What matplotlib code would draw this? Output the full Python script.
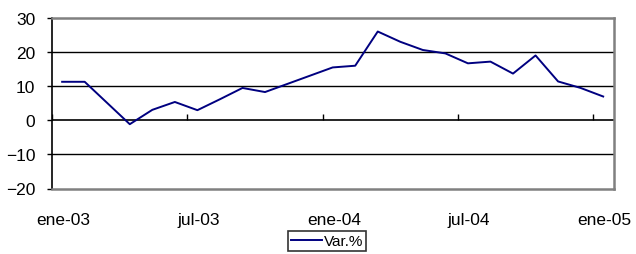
import numpy as np
import matplotlib
matplotlib.use("Agg")
import matplotlib.pyplot as plt
from matplotlib.lines import TICKUP

# Variación % mensual, ene-03 a ene-05
meses = np.arange(25)
var_pct = [11.2, 11.2, 5.0, -1.2, 3.0, 5.3, 2.9, 6.1, 9.4, 8.2, 10.6, 13.0, 15.4,
           15.9, 25.9, 22.9, 20.5, 19.5, 16.6, 17.1, 13.6, 18.9, 11.3, 9.4, 6.9]
tick_pos = [0, 6, 12, 18, 24]
tick_labels = ['ene-03', 'jul-03', 'ene-04', 'jul-04', 'ene-05']

plt.rcParams['font.family'] = ['Liberation Sans', 'DejaVu Sans']

fig = plt.figure(figsize=(6.36, 2.55), dpi=100)
ax = fig.add_axes([52/636, 1-189.5/255, (614-52)/636, (189.5-18.5)/255])

# grilla y eje de categorías en 0
for yv in [-10, 10, 20]:
    ax.axhline(yv, color='black', lw=1.0, zorder=1)
ax.axhline(0, color='black', lw=1.2, zorder=1)
ax.plot(tick_pos, np.zeros(len(tick_pos)), linestyle='none', marker=TICKUP,
        markersize=4, color='black', mew=1.0, zorder=1)

# los datos van a mitad de cada mes (eje de fechas)
ax.plot(meses + 0.45, var_pct, color='#000080', lw=1.4, label='Var.%', zorder=3)

ax.set_xlim(0, 24.93)
ax.set_ylim(-20, 30)
ax.set_yticks([-20, -10, 0, 10, 20, 30])
ax.set_xticks(np.array(tick_pos) + 0.5)
ax.set_xticklabels(tick_labels)
ax.tick_params(axis='x', length=0, pad=17, labelsize=12.5)
ax.tick_params(axis='y', direction='out', length=3.5, width=1, pad=8.5, labelsize=12.5)

for s in ['top', 'right', 'bottom']:
    ax.spines[s].set_color('#808080')
    ax.spines[s].set_linewidth(1.8)
ax.spines['left'].set_color('black')
ax.spines['left'].set_linewidth(1.2)

leg = fig.legend(loc='upper left', bbox_to_anchor=(288/636, 1-232/255),
                 fontsize=11, frameon=True, fancybox=False, handlelength=2.0,
                 handletextpad=0.15, borderpad=0.2, borderaxespad=0)
leg.get_frame().set_edgecolor('black')
leg.get_frame().set_linewidth(1.2)

fig.savefig('out.png', dpi=100)
